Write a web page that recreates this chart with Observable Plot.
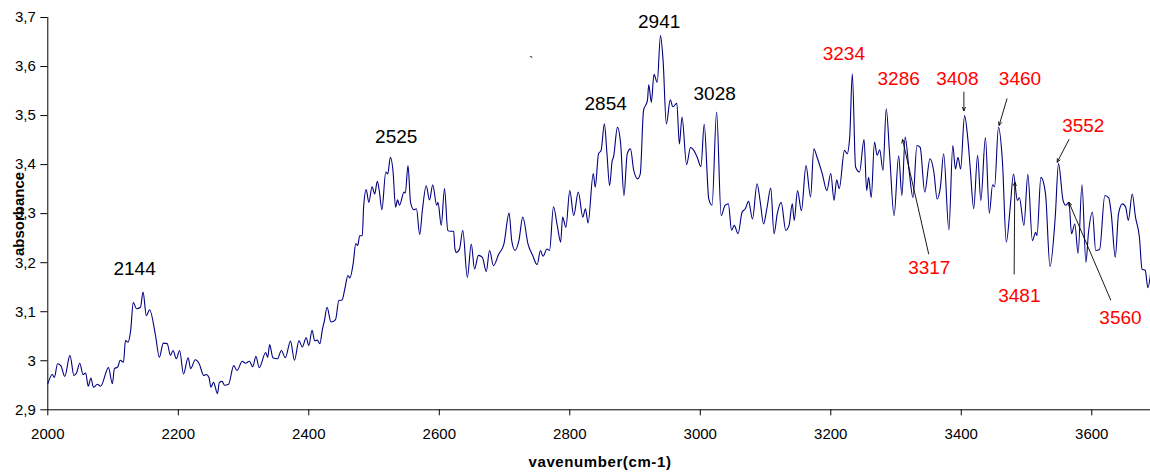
<!DOCTYPE html>
<html>
<head>
<meta charset="utf-8">
<script src="https://cdn.jsdelivr.net/npm/d3@7"></script>
<script src="https://cdn.jsdelivr.net/npm/@observablehq/plot@0.6"></script>
<style>
  html, body { margin: 0; padding: 0; background: #fff; }
  svg { font-family: "Liberation Sans", Arial, sans-serif; }
</style>
</head>
<body>
<div id="chart"></div>
<script>
const wave = [2000,2007,2010,2015,2020,2026,2034,2040,2044,2049,2054,2058,2062,2066,2070,2076,2081,2093,2099,2102,2107,2111,2116,2119,2123,2127,2131,2136,2142,2146,2151,2156,2165,2171,2177,2183,2188,2192,2197,2202,2208,2215,2219,2226,2232,2239,2243,2247,2250,2254,2260,2263,2267,2271,2277,2285,2290,2298,2303,2309,2314,2319,2324,2334,2337,2340,2345,2352,2358,2364,2372,2378,2385,2390,2396,2400,2405,2409,2413,2417,2421,2424,2428,2434,2441,2446,2451,2455,2460,2463,2468,2472,2475,2478,2482,2484,2488,2492,2497,2501,2505,2508,2512,2518,2521,2525,2529,2533,2536,2539,2546,2548,2552,2556,2561,2565,2570,2574,2580,2585,2590,2596,2598,2603,2608,2613,2617,2622,2624,2626,2631,2636,2643,2649,2654,2660,2666,2672,2677,2683,2691,2699,2707,2711,2716,2722,2728,2736,2743,2750,2755,2759,2765,2769,2775,2781,2786,2789,2794,2800,2806,2813,2820,2824,2828,2836,2839,2844,2848,2853,2857,2861,2865,2867,2873,2878,2883,2888,2893,2898,2904,2908,2913,2919,2921,2925,2929,2934,2939,2943,2948,2954,2958,2964,2968,2972,2979,2985,2991,2995,3001,3006,3013,3018,3025,3032,3038,3043,3048,3052,3058,3064,3069,3074,3080,3087,3092,3097,3102,3108,3113,3118,3124,3131,3136,3141,3144,3149,3155,3162,3169,3174,3179,3187,3194,3200,3205,3209,3213,3221,3225,3229,3233,3238,3244,3251,3255,3258,3262,3267,3271,3275,3280,3285,3290,3297,3304,3309,3314,3320,3326,3332,3337,3344,3352,3358,3363,3368,3373,3381,3387,3391,3395,3399,3405,3410,3414,3419,3425,3430,3437,3443,3448,3451,3457,3463,3469,3475,3480,3486,3489,3496,3502,3509,3514,3516,3522,3529,3536,3544,3549,3556,3560,3565,3569,3574,3579,3585,3591,3595,3601,3606,3612,3620,3626,3630,3636,3641,3647,3652,3656,3662,3667,3673,3677,3682,3686,3690];
const absorbance = [2.953,2.972,2.966,2.994,2.990,2.968,3.011,2.970,2.975,2.995,2.972,2.975,2.948,2.965,2.946,2.952,2.948,2.986,2.953,2.984,2.987,3.001,2.997,3.041,3.038,3.062,3.119,3.106,3.109,3.140,3.092,3.104,3.052,3.007,3.036,3.035,3.011,3.021,3.004,3.021,2.973,3.006,2.984,3.002,2.994,2.970,2.972,2.966,2.946,2.956,2.933,2.956,2.958,2.950,2.952,2.990,2.980,2.999,2.995,2.999,2.988,3.009,2.986,3.017,3.007,3.033,3.006,3.004,3.021,3.006,3.040,3.001,3.041,3.028,3.047,3.031,3.062,3.041,3.042,3.035,3.065,3.082,3.109,3.079,3.084,3.123,3.124,3.145,3.174,3.169,3.198,3.239,3.235,3.255,3.255,3.313,3.349,3.323,3.355,3.340,3.366,3.347,3.308,3.385,3.381,3.415,3.388,3.313,3.328,3.317,3.344,3.342,3.398,3.323,3.308,3.310,3.257,3.306,3.357,3.328,3.359,3.317,3.323,3.276,3.351,3.266,3.264,3.264,3.228,3.221,3.228,3.266,3.170,3.238,3.187,3.215,3.211,3.182,3.225,3.194,3.217,3.238,3.301,3.245,3.225,3.245,3.293,3.238,3.215,3.196,3.225,3.213,3.228,3.225,3.314,3.274,3.242,3.293,3.272,3.347,3.296,3.344,3.293,3.310,3.281,3.382,3.354,3.422,3.429,3.483,3.422,3.357,3.408,3.415,3.476,3.442,3.337,3.422,3.432,3.388,3.371,3.381,3.510,3.531,3.563,3.527,3.584,3.568,3.663,3.612,3.483,3.532,3.518,3.525,3.442,3.497,3.400,3.435,3.427,3.416,3.396,3.482,3.330,3.317,3.507,3.296,3.317,3.320,3.266,3.276,3.259,3.303,3.310,3.325,3.289,3.361,3.323,3.279,3.310,3.352,3.259,3.300,3.323,3.266,3.276,3.320,3.286,3.347,3.306,3.398,3.334,3.432,3.415,3.381,3.347,3.382,3.327,3.369,3.351,3.429,3.422,3.456,3.585,3.395,3.385,3.451,3.347,3.374,3.333,3.446,3.419,3.430,3.388,3.514,3.425,3.296,3.418,3.337,3.456,3.388,3.333,3.439,3.435,3.344,3.412,3.385,3.330,3.354,3.422,3.267,3.439,3.391,3.415,3.391,3.500,3.453,3.388,3.310,3.419,3.327,3.455,3.301,3.359,3.355,3.476,3.408,3.242,3.313,3.381,3.327,3.333,3.276,3.380,3.245,3.262,3.255,3.374,3.342,3.192,3.293,3.402,3.327,3.317,3.323,3.259,3.279,3.219,3.359,3.201,3.262,3.303,3.225,3.227,3.337,3.332,3.298,3.211,3.300,3.320,3.313,3.286,3.340,3.293,3.252,3.187,3.184,3.149,3.177];

const xTicks = [2000,2200,2400,2600,2800,3000,3200,3400,3600];
const yTicks = [2.9,3.0,3.1,3.2,3.3,3.4,3.5,3.6,3.7];

// peak labels (text, wavenumber, absorbance position of label centre, group)
const peakText  = ["2144","2525","2854","2941","3028","3234","3286","3408","3460","3552","3317","3481","3560"];
const peakWave  = [2133,2534,2855,2937,3022,3220,3304,3394,3490,3587,3351,3489,3644];
const peakAbs   = [3.188,3.457,3.523,3.690,3.545,3.626,3.575,3.575,3.574,3.479,3.189,3.132,3.087];
const peakGroup = ["black","black","black","black","black","red","red","red","red","red","red","red","red"];

// arrows from labels to peaks
const arrowFromW = [3404,3470,3565,3350,3481,3629];
const arrowFromA = [3.548,3.534,3.451,3.218,3.177,3.124];
const arrowToW   = [3404,3458,3547,3310,3482,3565];
const arrowToA   = [3.510,3.480,3.405,3.451,3.364,3.323];

const spectrum = wave.map((w, i) => ({w, a: absorbance[i]}));
const peaks = peakText.map((t, i) => ({t, w: peakWave[i], a: peakAbs[i], g: peakGroup[i]}));
const arrows = arrowFromW.map((w, i) => ({x1: w, y1: arrowFromA[i], x2: arrowToW[i], y2: arrowToA[i]}));

const fmtY = d => Math.abs(d - 3) < 1e-9 ? "3" : d.toFixed(1).replace(".", ",");

const svg = Plot.plot({
  width: 1150,
  height: 473,
  marginLeft: 47.3,
  marginRight: 0,
  marginTop: 17,
  marginBottom: 63.7,
  style: {fontFamily: "'Liberation Sans', Arial, sans-serif", background: "#fff", color: "#000"},
  x: {domain: [2000, 3690]},
  y: {domain: [2.9, 3.7]},
  marks: [
    Plot.axisX({ticks: xTicks, tickSize: 6, tickPadding: 13, fontSize: 15, tickFormat: d => String(d), label: null}),
    Plot.axisY({ticks: yTicks, tickSize: 7, tickPadding: 5, fontSize: 15, tickFormat: fmtY, label: null}),
    Plot.ruleX([2000], {stroke: "#000"}),
    Plot.ruleY([2.9], {stroke: "#000"}),
    Plot.line(spectrum, {x: "w", y: "a", stroke: "#000080", strokeWidth: 1.1, curve: "monotone-x"}),
    Plot.arrow(arrows, {x1: "x1", y1: "y1", x2: "x2", y2: "y2", stroke: "#000", strokeWidth: 0.9, headLength: 6, headAngle: 50}),
    Plot.text(peaks, {x: "w", y: "a", text: "t", fill: d => d.g === "red" ? "#ff0000" : "#000", fontSize: 19}),
    Plot.text(["`"], {x: 2741, y: 3.608, text: d => d, fontSize: 12, fill: "#000"})
  ]
});

const s = d3.select(svg);
s.append("text")
  .attr("x", 600).attr("y", 467)
  .attr("text-anchor", "middle")
  .attr("font-size", 15).attr("font-weight", "bold")
  .attr("letter-spacing", "0.6px")
  .attr("fill", "#000")
  .text("vavenumber(cm-1)");
s.append("text")
  .attr("transform", "translate(24,214) rotate(-90)")
  .attr("text-anchor", "middle")
  .attr("font-size", 15).attr("font-weight", "bold")
  .attr("fill", "#000")
  .text("absorbance");

document.getElementById("chart").appendChild(svg);
</script>
</body>
</html>
